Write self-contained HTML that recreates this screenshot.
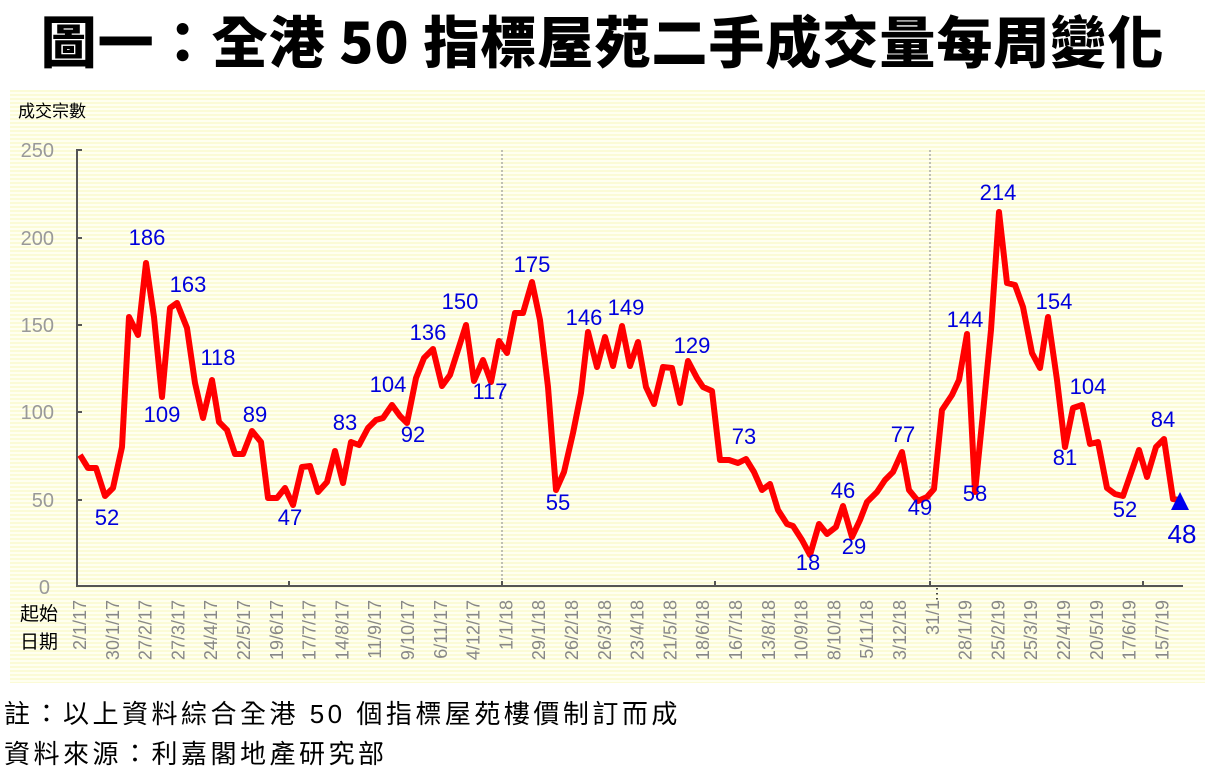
<!DOCTYPE html>
<html><head><meta charset="utf-8"><style>
body{margin:0;width:1205px;height:778px;background:#fff;overflow:hidden;position:relative;font-family:"Liberation Sans","Noto Sans CJK TC",sans-serif}
.title{position:absolute;left:0;top:2px;width:1205px;text-align:center;font-family:"Noto Sans CJK TC","WenQuanYi Zen Hei",sans-serif;font-weight:900;font-size:56px;line-height:76px;color:#000;letter-spacing:1px}
.panel{position:absolute;left:10px;top:90px;width:1195px;height:593px;background:repeating-linear-gradient(180deg,#fbfbd6 0,#fbfbd6 2px,#fffff0 2px,#fffff0 4px)}
.foot{position:absolute;left:4px;font-size:26px;letter-spacing:3.5px;color:#000;font-family:"Liberation Sans","Noto Sans CJK TC",sans-serif}
</style></head><body>
<div class="title">圖一：全港 50 指標屋苑二手成交量每周變化</div>
<div class="panel"></div>
<svg width="1205" height="778" style="position:absolute;left:0;top:0" font-family="Liberation Sans, Noto Sans CJK TC, sans-serif">
<text x="18" y="117" font-size="17" fill="#000">成交宗數</text>
<g font-size="20" fill="#999" text-anchor="end">
<text x="54" y="157">250</text><text x="54" y="245">200</text><text x="54" y="332">150</text><text x="54" y="419">100</text><text x="54" y="507">50</text><text x="50" y="594">0</text>
</g>
<g stroke="#999" stroke-width="1.2" stroke-dasharray="2,2"><line x1="502" y1="150" x2="502" y2="586"/><line x1="930" y1="150" x2="930" y2="586"/></g>
<g stroke="#555" stroke-width="2" fill="none">
<polyline points="82,150 77,150 77,586 1183,586"/>
<line x1="77" y1="238" x2="82" y2="238"/><line x1="77" y1="325" x2="82" y2="325"/><line x1="77" y1="412" x2="82" y2="412"/><line x1="77" y1="500" x2="82" y2="500"/>
<line x1="289" y1="586" x2="289" y2="581"/><line x1="502" y1="586" x2="502" y2="581"/><line x1="715" y1="586" x2="715" y2="581"/><line x1="930" y1="586" x2="930" y2="581"/><line x1="1143" y1="586" x2="1143" y2="581"/>
</g>
<text x="930" y="598" font-size="14" fill="#000">⋮</text>
<polyline fill="none" stroke="#f00" stroke-width="6" stroke-linejoin="round" points="80,455 88,468 96,468 105,496 113,488 122,447 129,317 138,335 146,263 154,317 162,397 170,308 177,303 187,328 195,383 203,418 212,380 219,422 227,430 235,454 243,454 252,431 261,442 268,498 277,498 285,488 293,505 302,467 310,466 318,492 327,482 335,451 343,483 351,442 359,445 368,428 376,420 383,418 392,405 400,416 407,423 416,378 424,358 433,349 442,386 450,375 458,350 466,325 474,381 483,360 491,382 499,341 507,353 515,313 523,313 532,282 540,320 548,387 556,490 564,472 573,433 581,393 588,332 597,367 605,337 613,366 622,326 630,366 638,342 646,387 654,404 663,367 672,368 680,403 688,361 697,378 703,387 712,391 720,460 729,460 738,463 746,459 754,472 762,490 770,484 778,510 787,524 793,526 802,540 810,555 819,524 827,534 836,527 843,506 852,537 860,520 867,502 877,492 885,480 893,472 902,452 909,490 918,501 927,497 934,489 942,410 952,395 959,380 967,334 975,492 983,413 991,330 999,212 1007,283 1015,285 1023,307 1032,353 1040,368 1048,317 1057,380 1065,447 1073,408 1082,405 1090,444 1098,442 1107,488 1115,494 1123,496 1131,473 1139,450 1147,477 1156,447 1164,439 1173,499 1180,500"/>
<polygon points="1180,492 1171,510 1189,510" fill="#0000ee"/>
<g font-size="22" fill="#0000dd" text-anchor="middle">
<text x="147" y="245">186</text><text x="188" y="292">163</text><text x="162" y="422">109</text><text x="218" y="365">118</text><text x="255" y="422">89</text><text x="107" y="525">52</text><text x="290" y="525">47</text><text x="345" y="430">83</text><text x="388" y="392">104</text><text x="413" y="442">92</text><text x="428" y="340">136</text><text x="460" y="309">150</text><text x="490" y="399">117</text><text x="532" y="272">175</text><text x="558" y="510">55</text><text x="584" y="325">146</text><text x="626" y="315">149</text><text x="692" y="353">129</text><text x="744" y="444">73</text><text x="808" y="570">18</text><text x="843" y="498">46</text><text x="854" y="554">29</text><text x="903" y="442">77</text><text x="920" y="515">49</text><text x="965" y="327">144</text><text x="975" y="501">58</text><text x="998" y="200">214</text><text x="1054" y="309">154</text><text x="1088" y="394">104</text><text x="1065" y="465">81</text><text x="1125" y="517">52</text><text x="1163" y="427">84</text><text x="1182" y="543" font-size="26">48</text>
</g>
<g font-size="19" fill="#000"><text x="20" y="620">起始</text><text x="20" y="648">日期</text></g>
<g font-size="18" fill="#888" text-anchor="end" id="xl"></g>
</svg>
<div class="foot" style="top:694px">註：以上資料綜合全港 50 個指標屋苑樓價制訂而成</div>
<div class="foot" style="top:734px">資料來源：利嘉閣地產研究部</div>
<script>
var L="2/1/17,30/1/17,27/2/17,27/3/17,24/4/17,22/5/17,19/6/17,17/7/17,14/8/17,11/9/17,9/10/17,6/11/17,4/12/17,1/1/18,29/1/18,26/2/18,26/3/18,23/4/18,21/5/18,18/6/18,16/7/18,13/8/18,10/9/18,8/10/18,5/11/18,3/12/18,31/1,28/1/19,25/2/19,25/3/19,22/4/19,20/5/19,17/6/19,15/7/19".split(",");
var g=document.getElementById("xl"),s="";
L.forEach(function(t,i){var x=80+i*32.8+6;s+='<text transform="translate('+x.toFixed(1)+',600) rotate(-90)">'+t+'</text>';});
g.innerHTML=s;
</script>
</body></html>
